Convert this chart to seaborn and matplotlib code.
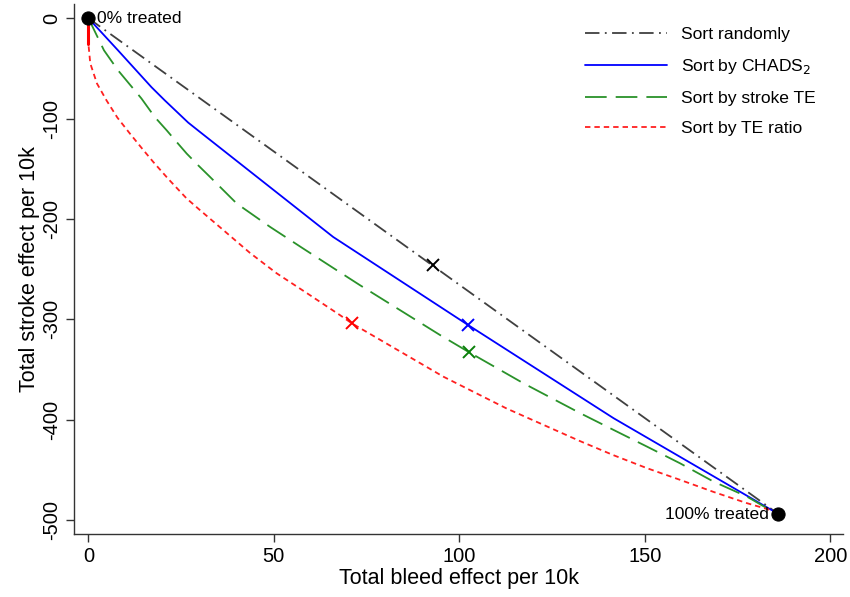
import numpy as np
import pandas as pd
import matplotlib
matplotlib.use("Agg")
import matplotlib.pyplot as plt
import seaborn as sns

# ---- data ----
random_x = [0, 186]
random_y = [0, -494]

chads_x = [0, 8, 17, 20.6, 26.9, 30.1, 66, 102.4, 141.6, 186]
chads_y = [0, -32.1, -68.7, -81.9, -104, -113.4, -218, -305.8, -398.6, -494]

stroke_x = [0, 4.2, 8, 12.5, 14.3, 17.9, 21.1, 23.8, 26.5, 29.6, 32.8, 40, 49, 57.9, 66.9,
            73.2, 94.8, 102.7, 117.3, 132.6, 141.6, 150.6, 159.5, 168.5, 177.5, 182.9, 186]
stroke_y = [0, -32, -52, -72, -80, -98.5, -111.7, -123.4, -134.9, -146.6, -158.2, -184.7,
            -208, -229.5, -251, -266, -315.7, -333, -363.8, -393.6, -410.3, -426.9, -443.5,
            -461.7, -476.6, -488.2, -494]

ratio_x = [0, 0, 0.5, 2.3, 4.9, 7.8, 11.2, 14.5, 17.5, 21.5, 26.5, 30.1, 36.4, 43.6, 50.8, 59.7,
           67.8, 71, 95.7, 112.8, 132.6, 141.6, 150.6, 159.5, 168.5, 177.5, 183.8, 186]
ratio_y = [0, -25.5, -45, -65, -82, -99, -115, -130, -143.3, -160, -179.7, -191.3, -211.2, -234,
           -254.3, -275.9, -295.8, -304, -357.2, -389, -421.5, -435.5, -448.4, -460, -472,
           -483.2, -490, -494]

# half-treated markers (x marks)
mark_x = [92.9, 102.4, 102.7, 71.0]
mark_y = [-246, -305.8, -333, -304]
mark_series = ["Sort randomly", "Sort by CHADS$_2$", "Sort by stroke TE", "Sort by TE ratio"]

# end points
end_x = [0, 186]
end_y = [0, -494]
end_labels = ["0% treated", "100% treated"]

xticks = [0, 50, 100, 150, 200]
yticks = [0, -100, -200, -300, -400, -500]

sns.set_theme(style="ticks")
plt.rcParams["font.family"] = ["Liberation Sans", "DejaVu Sans"]
plt.rcParams["axes.unicode_minus"] = False
plt.rcParams["text.color"] = "black"
plt.rcParams["axes.labelcolor"] = "black"
plt.rcParams["xtick.labelcolor"] = "black"
plt.rcParams["ytick.labelcolor"] = "black"

fig = plt.figure(figsize=(8.5, 5.97), dpi=100)
ax = fig.add_axes([0.087, 0.1055, 0.905, 0.8875])

series = [
    ("Sort randomly", random_x, random_y, "#404040", (0, (8, 3, 1, 3))),
    ("Sort by CHADS$_2$", chads_x, chads_y, "#0000ff", "-"),
    ("Sort by stroke TE", stroke_x, stroke_y, "#2a922a", (0, (12, 5))),
    ("Sort by TE ratio", ratio_x, ratio_y, "#ff2020", (0, (3, 2.2))),
]
mark_colors = {"Sort randomly": "black", "Sort by CHADS$_2$": "#0000ff",
               "Sort by stroke TE": "#0a800a", "Sort by TE ratio": "#ff0000"}

for name, xs, ys, col, ls in series:
    df = pd.DataFrame({"x": xs, "y": ys})
    sns.lineplot(data=df, x="x", y="y", sort=False, estimator=None, ax=ax,
                 color=col, linestyle=ls, linewidth=1.3, label=name)

# solid vertical start of TE ratio curve
df0 = pd.DataFrame({"x": ratio_x[:2], "y": ratio_y[:2]})
sns.lineplot(data=df0, x="x", y="y", sort=False, estimator=None, ax=ax,
             color="#ff0000", linewidth=2.2, legend=False)

dfm = pd.DataFrame({"x": mark_x, "y": mark_y, "s": mark_series})
for _, r in dfm.iterrows():
    ax.plot(r["x"], r["y"], marker="x", markersize=9, markeredgewidth=1.4,
            color=mark_colors[r["s"]], linestyle="none")

dfe = pd.DataFrame({"x": end_x, "y": end_y})
sns.scatterplot(data=dfe, x="x", y="y", ax=ax, color="black", s=90,
                edgecolor="black", zorder=5, legend=False)
ax.text(end_x[0] + 2.2, end_y[0], end_labels[0], fontsize=12.6, va="center", ha="left")
ax.text(end_x[1] - 2.6, end_y[1] - 1, end_labels[1], fontsize=12.6, va="center", ha="right")

ax.set_xlim(-3.9, 203.5)
ax.set_ylim(-514, 14)
ax.set_xticks(xticks)
ax.set_yticks(yticks)
ax.set_xlabel("Total bleed effect per 10k", fontsize=15.5, labelpad=2)
ax.set_ylabel("Total stroke effect per 10k", fontsize=15.5, labelpad=2)
ax.tick_params(axis="both", labelsize=14.5, length=6, width=1, color="#333333", pad=3)
for lab in ax.get_yticklabels():
    lab.set_rotation(90)
    lab.set_va("center")
sns.despine(ax=ax)
for sp in ["left", "bottom"]:
    ax.spines[sp].set_color("#333333")
    ax.spines[sp].set_linewidth(1)

leg = ax.legend(loc="upper right", frameon=False, fontsize=12.6, handlelength=4.7,
                labelspacing=0.85, bbox_to_anchor=(0.985, 0.987))

fig.savefig("out.png", dpi=100)
